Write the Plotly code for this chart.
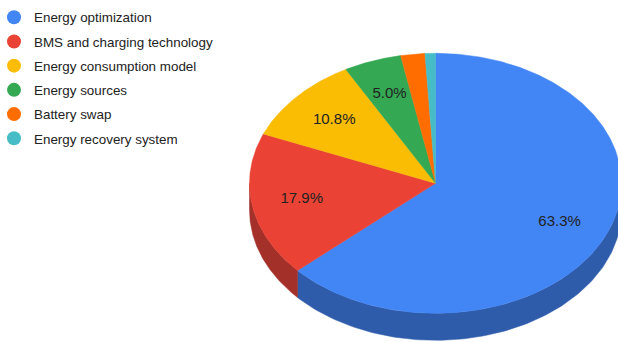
import numpy as np
import plotly.graph_objects as go

categories = ["Energy optimization", "BMS and charging technology", "Energy consumption model",
              "Energy sources", "Battery swap", "Energy recovery system"]
values = [63.3, 17.9, 10.8, 5.0, 2.1, 0.9]
top_colors = ["#4285F4", "#EA4335", "#FBBC04", "#34A853", "#FF6D01", "#46BDC6"]
side_colors = ["#2F5CAA", "#A4302A", "#B08403", "#24763A", "#B34C01", "#318489"]

# geometry of the tilted pie (pixel space)
W, H = 618, 342
cx, cy, rx, ry, depth = 435.5, 183.3, 186.0, 130.0, 27.0
label_frac = 0.73

total = sum(values)
fracs = np.array(values) / total
ends = np.cumsum(fracs) * 360.0
starts = ends - fracs * 360.0


def pt(theta_deg, dy=0.0):
    t = np.radians(theta_deg)
    return cx + rx * np.sin(t), cy - ry * np.cos(t) + dy


fig = go.Figure()

# side walls (only front half, 90..270 deg clockwise from top)
for i, (a, b) in enumerate(zip(starts, ends)):
    lo, hi = max(a, 90.0), min(b, 270.0)
    if hi <= lo:
        continue
    th = np.linspace(lo, hi, 120)
    xt, yt = pt(th)
    xb, yb = pt(th[::-1], depth)
    fig.add_trace(go.Scatter(
        x=np.concatenate([xt, xb, xt[:1]]), y=np.concatenate([yt, yb, yt[:1]]),
        mode="lines", fill="toself", fillcolor=side_colors[i],
        line=dict(color=side_colors[i], width=0.5), hoverinfo="skip", showlegend=False))

# top faces
for i, (a, b) in enumerate(zip(starts, ends)):
    th = np.linspace(a, b, max(4, int((b - a) * 2)))
    xs, ys = pt(th)
    fig.add_trace(go.Scatter(
        x=np.concatenate([[cx], xs, [cx]]), y=np.concatenate([[cy], ys, [cy]]),
        mode="lines", fill="toself", fillcolor=top_colors[i],
        line=dict(color=top_colors[i], width=0.5),
        name=categories[i], text=f"{categories[i]}: {values[i]:.1f}%",
        hoverinfo="text", showlegend=False))

# slice labels
lx, ly, lt = [], [], []
for v, a, b in zip(values, starts, ends):
    if v >= 5.0:
        mid = (a + b) / 2
        t = np.radians(mid)
        lx.append(cx + label_frac * rx * np.sin(t))
        ly.append(cy - label_frac * ry * np.cos(t))
        lt.append(f"{v:.1f}%")
fig.add_trace(go.Scatter(x=lx, y=ly, text=lt, mode="text",
                         textfont=dict(family="Liberation Sans, Arial", size=15, color="#222222"),
                         hoverinfo="skip", showlegend=False))

# legend entries
for i, name in enumerate(categories):
    fig.add_trace(go.Scatter(x=[None], y=[None], mode="markers", name=name, legendgroup=name,
                             marker=dict(symbol="circle", size=14, color=top_colors[i])))

fig.update_layout(
    width=W, height=H, margin=dict(l=0, r=0, t=0, b=0, autoexpand=False),
    paper_bgcolor="white", plot_bgcolor="white",
    xaxis=dict(range=[0, W], visible=False, fixedrange=True),
    yaxis=dict(range=[H, 0], visible=False, fixedrange=True),
    legend=dict(x=-6 / W, y=1 - 2 / H, xanchor="left", yanchor="top",
                font=dict(family="Liberation Sans, Arial", size=13.4, color="#222222"),
                tracegroupgap=3.8, bgcolor="rgba(0,0,0,0)"),
    showlegend=True,
)

fig.write_html("out.html")
